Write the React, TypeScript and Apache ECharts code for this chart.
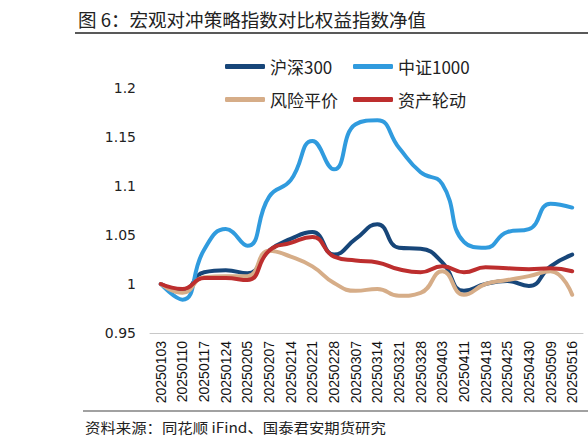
import React, { useEffect, useRef } from "react";
import * as echarts from "echarts";

const categories = [
  "20250103", "20250110", "20250117", "20250124", "20250205",
  "20250207", "20250214", "20250221", "20250228", "20250307",
  "20250314", "20250321", "20250328", "20250403", "20250411",
  "20250418", "20250425", "20250430", "20250509", "20250516",
];

const hs300 = [1.0, 0.993, 1.012, 1.014, 1.011, 1.034, 1.046, 1.053, 1.03, 1.046, 1.061, 1.037, 1.036, 1.022, 0.993, 1.0, 1.003, 0.998, 1.018, 1.03];
const zz1000 = [1.0, 0.984, 1.035, 1.056, 1.039, 1.089, 1.106, 1.146, 1.117, 1.163, 1.167, 1.139, 1.114, 1.102, 1.043, 1.037, 1.053, 1.056, 1.082, 1.078];
const riskParity = [1.0, 0.991, 1.007, 1.008, 1.008, 1.034, 1.028, 1.018, 1.001, 0.993, 0.995, 0.988, 0.991, 1.013, 0.989, 1.0, 1.004, 1.008, 1.013, 0.989];
const assetRotation = [1.0, 0.995, 1.006, 1.006, 1.004, 1.034, 1.042, 1.048, 1.028, 1.024, 1.022, 1.015, 1.012, 1.018, 1.012, 1.017, 1.016, 1.015, 1.016, 1.013];

const seriesNames = ["沪深300", "中证1000", "风险平价", "资产轮动"];
const seriesColors = ["#174679", "#309bde", "#d6ad88", "#bd2e2e"];

const titleText = "图 6：宏观对冲策略指数对比权益指数净值";
const sourceText = "资料来源：同花顺 iFind、国泰君安期货研究";

const CJK = '"Noto Sans CJK SC", "Noto Sans", sans-serif';

export default function App() {
  const ref = useRef<HTMLDivElement>(null);
  useEffect(() => {
    if (!ref.current) return;
    const chart = echarts.init(ref.current, undefined, { renderer: "svg" });
    const data = [hs300, zz1000, riskParity, assetRotation];
    const legendCommon = {
      orient: "vertical",
      top: 53,
      itemGap: 16,
      itemWidth: 40,
      itemHeight: 5,
      icon: "roundRect",
      textStyle: { fontSize: 17, fontFamily: CJK, color: "#222" },
    };
    chart.setOption({
      animation: false,
      backgroundColor: "#ffffff",
      grid: { left: 150, right: 5, top: 88, bottom: 114, containLabel: false },
      legend: [
        { ...legendCommon, data: [seriesNames[0], seriesNames[2]], left: 220 },
        { ...legendCommon, data: [seriesNames[1], seriesNames[3]], left: 348 },
      ],
      xAxis: {
        type: "category",
        data: categories,
        boundaryGap: true,
        axisLine: { lineStyle: { color: "#c8c8c8", width: 1 } },
        axisTick: { inside: true, length: 4, lineStyle: { color: "#c8c8c8" } },
        axisLabel: {
          rotate: 90,
          interval: 0,
          margin: 8,
          fontSize: 14,
          color: "#111",
          fontFamily: '"Liberation Sans", Arial, sans-serif',
        },
        splitLine: { show: false },
      },
      yAxis: {
        type: "value",
        min: 0.95,
        max: 1.2,
        interval: 0.05,
        axisLine: { show: false },
        axisTick: { show: false },
        splitLine: { show: false },
        axisLabel: {
          margin: 14,
          fontSize: 14,
          color: "#222",
          fontFamily: '"DejaVu Sans", sans-serif',
        },
      },
      series: seriesNames.map((name, i) => ({
        name,
        type: "line",
        data: data[i],
        smooth: true,
        symbol: "none",
        lineStyle: { width: 4, color: seriesColors[i], cap: "round", join: "round" },
        itemStyle: { color: seriesColors[i] },
      })),
      graphic: [
        {
          type: "text",
          x: 78,
          y: 10,
          scaleX: 1.03,
          style: { text: titleText, fontSize: 18, fontFamily: CJK, fill: "#222" },
        },
        {
          type: "line",
          shape: { x1: 75, y1: 33, x2: 588, y2: 33 },
          style: { stroke: "#222", lineWidth: 1.5 },
        },
        {
          type: "line",
          shape: { x1: 83, y1: 411, x2: 588, y2: 411 },
          style: { stroke: "#444", lineWidth: 1.2 },
        },
        {
          type: "text",
          x: 85,
          y: 420,
          scaleX: 1.1,
          style: { text: sourceText, fontSize: 14, fontFamily: CJK, fill: "#222" },
        },
      ],
    });
    return () => chart.dispose();
  }, []);
  return (
    <div
      ref={ref}
      style={{ position: "fixed", left: 0, top: 0, width: 588, height: 447 }}
    />
  );
}
